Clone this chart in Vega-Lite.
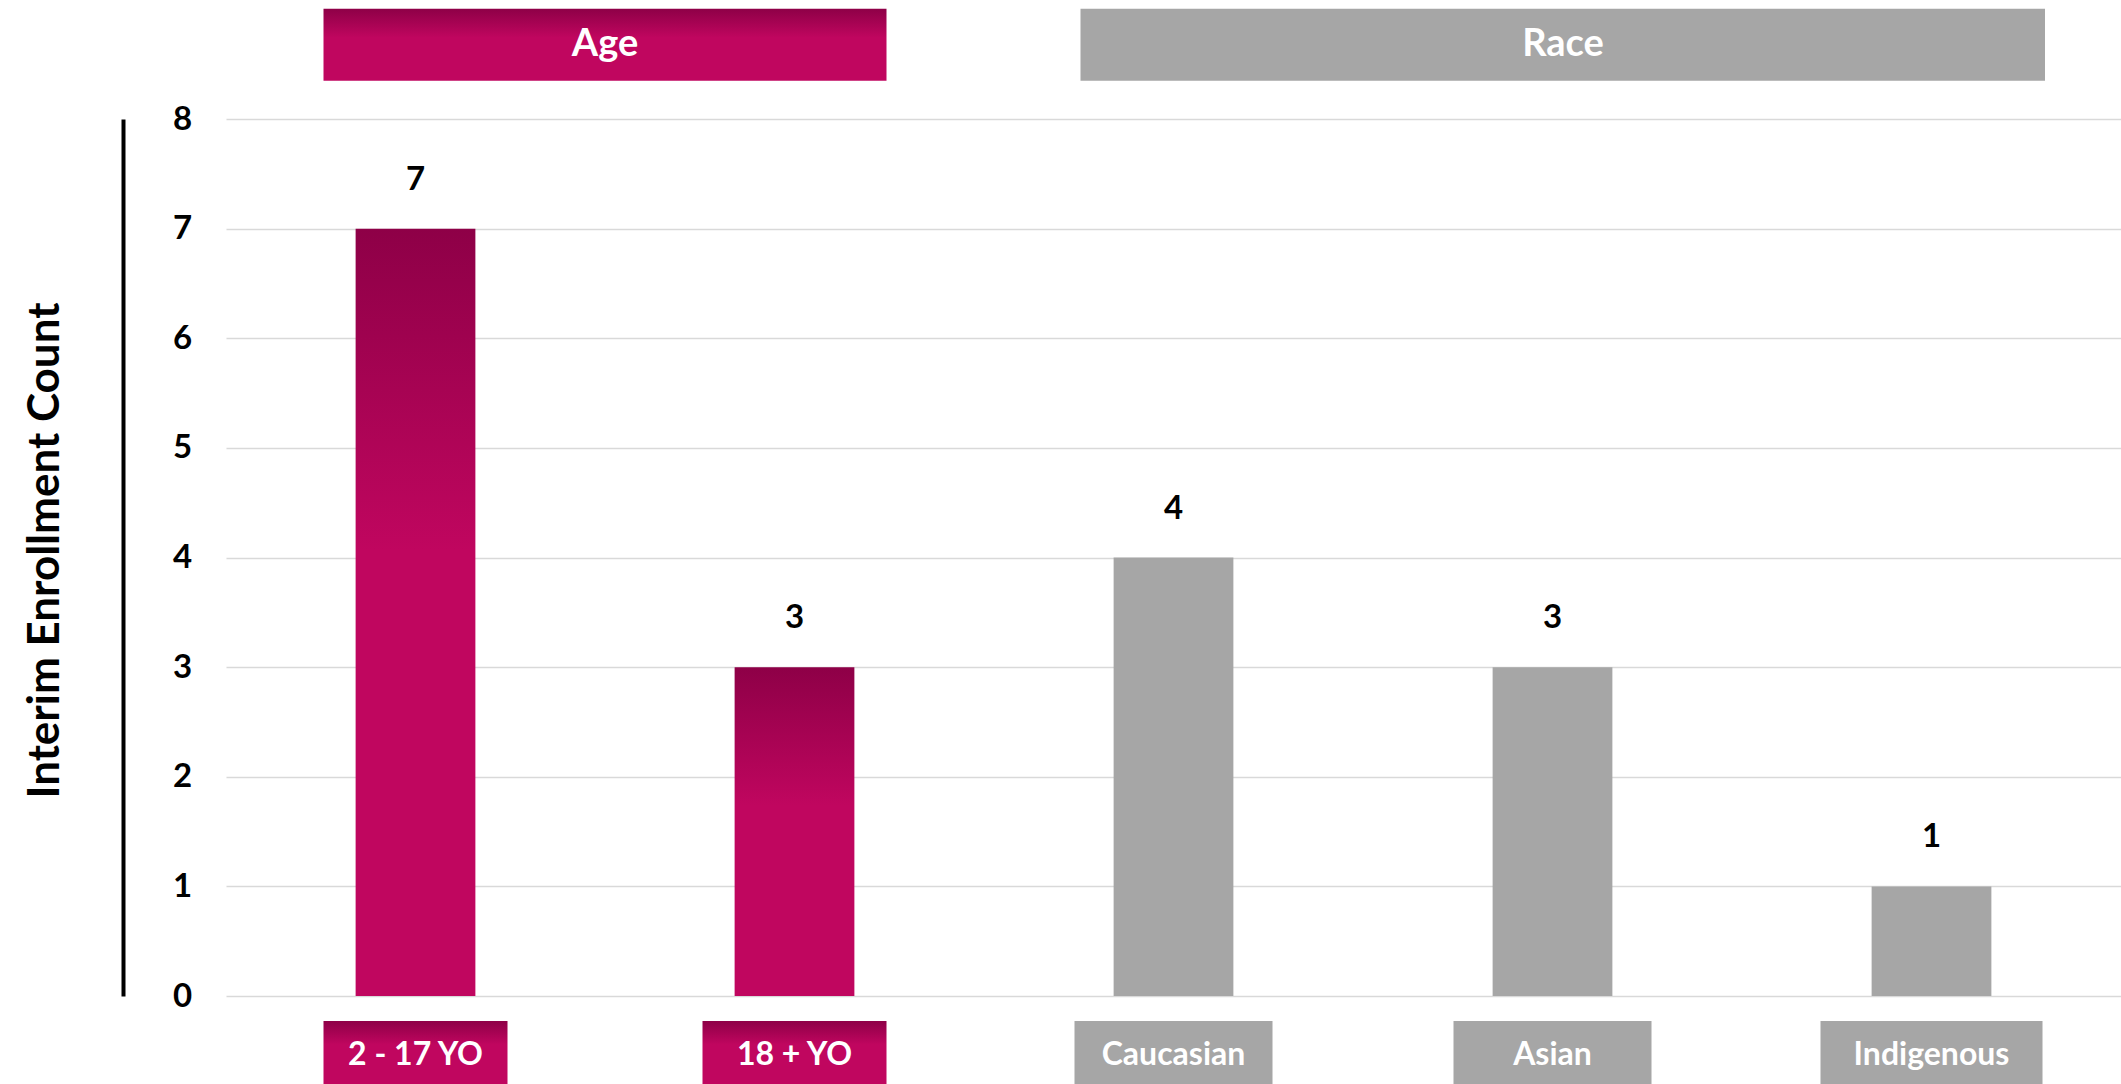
{
  "$schema": "https://vega.github.io/schema/vega-lite/v6.json",
  "width": 1895,
  "height": 877,
  "autosize": {"type": "none"},
  "padding": {"left": 226, "top": 119, "right": 0, "bottom": 88},
  "background": "white",
  "config": {"view": {"stroke": null}, "font": "Lato"},
  "datasets": {
    "bars": [
      {"category": "2 - 17 YO", "group": "Age", "count": 7},
      {"category": "18 + YO", "group": "Age", "count": 3},
      {"category": "Caucasian", "group": "Race", "count": 4},
      {"category": "Asian", "group": "Race", "count": 3},
      {"category": "Indigenous", "group": "Race", "count": 1}
    ],
    "groups": [
      {"group": "Age", "start": "2 - 17 YO", "end": "18 + YO"},
      {"group": "Race", "start": "Caucasian", "end": "Indigenous"}
    ]
  },
  "layer": [
    {
      "data": {"name": "bars"},
      "transform": [{"filter": "datum.group === 'Age'"}],
      "mark": {"type": "bar", "color": {"gradient": "linear", "x1": 0, "y1": 0, "x2": 0, "y2": 1, "stops": [{"offset": 0, "color": "#8E0047"}, {"offset": 0.42, "color": "#C0065F"}, {"offset": 1, "color": "#C0065F"}]}},
      "encoding": {
        "x": {"field": "category", "type": "nominal", "axis": null, "scale": {"domain": ["2 - 17 YO", "18 + YO", "Caucasian", "Asian", "Indigenous"], "paddingInner": 0.684, "paddingOuter": 0.342}},
        "y": {"field": "count", "type": "quantitative", "scale": {"domain": [0, 8], "nice": false},
          "axis": {"title": "Interim Enrollment Count", "values": [0, 1, 2, 3, 4, 5, 6, 7, 8], "format": "d", "offset": 103, "domain": true, "domainColor": "#000000", "domainWidth": 4, "ticks": false, "tickSize": 0, "labelPadding": -59, "labelAlign": "center", "labelBaseline": "middle", "labelFont": "Lato", "labelFontWeight": "bold", "labelFontSize": 33, "labelColor": "#000000", "labelFlush": false, "grid": true, "gridColor": "#D9D9D9", "gridWidth": 1.5, "titleFont": "Lato", "titleFontWeight": "bold", "titleFontSize": 44, "titleColor": "#000000", "titleAngle": 270, "titleAlign": "center", "titleBaseline": "middle", "titleX": -78, "titleY": 431}}
      }
    },
    {
      "data": {"name": "bars"},
      "transform": [{"filter": "datum.group === 'Race'"}],
      "mark": {"type": "bar", "color": "#A6A6A6"},
      "encoding": {
        "x": {"field": "category", "type": "nominal", "scale": {"domain": ["2 - 17 YO", "18 + YO", "Caucasian", "Asian", "Indigenous"], "paddingInner": 0.684, "paddingOuter": 0.342}},
        "y": {"field": "count", "type": "quantitative", "scale": {"domain": [0, 8], "nice": false}}
      }
    },
    {
      "data": {"name": "bars"},
      "mark": {"type": "text", "dy": -49, "baseline": "middle", "align": "center", "font": "Lato", "fontWeight": "bold", "fontSize": 33, "color": "#000000"},
      "encoding": {
        "x": {"field": "category", "type": "nominal", "scale": {"domain": ["2 - 17 YO", "18 + YO", "Caucasian", "Asian", "Indigenous"], "paddingInner": 0.684, "paddingOuter": 0.342}},
        "y": {"field": "count", "type": "quantitative", "scale": {"domain": [0, 8], "nice": false}},
        "text": {"field": "count", "type": "quantitative"}
      }
    },
    {
      "data": {"name": "bars"},
      "transform": [{"filter": "datum.group === 'Age'"}],
      "mark": {"type": "bar", "width": 184, "color": {"gradient": "linear", "x1": 0, "y1": 0, "x2": 0, "y2": 1, "stops": [{"offset": 0, "color": "#8E0047"}, {"offset": 0.32, "color": "#C0065F"}, {"offset": 1, "color": "#C0065F"}]}},
      "encoding": {
        "x": {"field": "category", "type": "nominal", "scale": {"domain": ["2 - 17 YO", "18 + YO", "Caucasian", "Asian", "Indigenous"], "paddingInner": 0.684, "paddingOuter": 0.342}},
        "y": {"datum": -0.228, "type": "quantitative", "scale": {"domain": [0, 8], "nice": false}},
        "y2": {"datum": -0.9}
      }
    },
    {
      "data": {"name": "bars"},
      "transform": [{"filter": "datum.category === 'Caucasian' || datum.category === 'Asian'"}],
      "mark": {"type": "bar", "width": 198, "color": "#A6A6A6"},
      "encoding": {
        "x": {"field": "category", "type": "nominal", "scale": {"domain": ["2 - 17 YO", "18 + YO", "Caucasian", "Asian", "Indigenous"], "paddingInner": 0.684, "paddingOuter": 0.342}},
        "y": {"datum": -0.228, "type": "quantitative", "scale": {"domain": [0, 8], "nice": false}},
        "y2": {"datum": -0.9}
      }
    },
    {
      "data": {"name": "bars"},
      "transform": [{"filter": "datum.category === 'Indigenous'"}],
      "mark": {"type": "bar", "width": 222, "color": "#A6A6A6"},
      "encoding": {
        "x": {"field": "category", "type": "nominal", "scale": {"domain": ["2 - 17 YO", "18 + YO", "Caucasian", "Asian", "Indigenous"], "paddingInner": 0.684, "paddingOuter": 0.342}},
        "y": {"datum": -0.228, "type": "quantitative", "scale": {"domain": [0, 8], "nice": false}},
        "y2": {"datum": -0.9}
      }
    },
    {
      "data": {"name": "bars"},
      "mark": {"type": "text", "baseline": "middle", "align": "center", "font": "Lato", "fontWeight": "bold", "fontSize": 32, "color": "#FFFFFF"},
      "encoding": {
        "x": {"field": "category", "type": "nominal", "scale": {"domain": ["2 - 17 YO", "18 + YO", "Caucasian", "Asian", "Indigenous"], "paddingInner": 0.684, "paddingOuter": 0.342}},
        "y": {"datum": -0.538, "type": "quantitative", "scale": {"domain": [0, 8], "nice": false}},
        "text": {"field": "category", "type": "nominal"}
      }
    },
    {
      "data": {"name": "groups"},
      "transform": [{"filter": "datum.group === 'Age'"}],
      "mark": {"type": "rect", "xOffset": -92, "x2Offset": 92, "color": {"gradient": "linear", "x1": 0, "y1": 0, "x2": 0, "y2": 1, "stops": [{"offset": 0, "color": "#8E0047"}, {"offset": 0.4, "color": "#C0065F"}, {"offset": 1, "color": "#C0065F"}]}},
      "encoding": {
        "x": {"field": "start", "type": "nominal", "bandPosition": 0.5, "scale": {"domain": ["2 - 17 YO", "18 + YO", "Caucasian", "Asian", "Indigenous"], "paddingInner": 0.684, "paddingOuter": 0.342}},
        "x2": {"field": "end", "bandPosition": 0.5},
        "y": {"datum": 9.005, "type": "quantitative", "scale": {"domain": [0, 8], "nice": false}},
        "y2": {"datum": 8.348}
      }
    },
    {
      "data": {"name": "groups"},
      "transform": [{"filter": "datum.group === 'Race'"}],
      "mark": {"type": "rect", "xOffset": -93, "x2Offset": 113.5, "color": "#A6A6A6"},
      "encoding": {
        "x": {"field": "start", "type": "nominal", "bandPosition": 0.5, "scale": {"domain": ["2 - 17 YO", "18 + YO", "Caucasian", "Asian", "Indigenous"], "paddingInner": 0.684, "paddingOuter": 0.342}},
        "x2": {"field": "end", "bandPosition": 0.5},
        "y": {"datum": 9.005, "type": "quantitative", "scale": {"domain": [0, 8], "nice": false}},
        "y2": {"datum": 8.348}
      }
    },
    {
      "data": {"name": "groups"},
      "transform": [{"filter": "datum.group === 'Age'"}],
      "mark": {"type": "text", "dx": 189.5, "baseline": "middle", "align": "center", "font": "Lato", "fontWeight": "bold", "fontSize": 38, "color": "#FFFFFF"},
      "encoding": {
        "x": {"field": "start", "type": "nominal", "scale": {"domain": ["2 - 17 YO", "18 + YO", "Caucasian", "Asian", "Indigenous"], "paddingInner": 0.684, "paddingOuter": 0.342}},
        "y": {"datum": 8.677, "type": "quantitative", "scale": {"domain": [0, 8], "nice": false}},
        "text": {"field": "group", "type": "nominal"}
      }
    },
    {
      "data": {"name": "groups"},
      "transform": [{"filter": "datum.group === 'Race'"}],
      "mark": {"type": "text", "dx": 389.5, "baseline": "middle", "align": "center", "font": "Lato", "fontWeight": "bold", "fontSize": 38, "color": "#FFFFFF"},
      "encoding": {
        "x": {"field": "start", "type": "nominal", "scale": {"domain": ["2 - 17 YO", "18 + YO", "Caucasian", "Asian", "Indigenous"], "paddingInner": 0.684, "paddingOuter": 0.342}},
        "y": {"datum": 8.677, "type": "quantitative", "scale": {"domain": [0, 8], "nice": false}},
        "text": {"field": "group", "type": "nominal"}
      }
    }
  ]
}
